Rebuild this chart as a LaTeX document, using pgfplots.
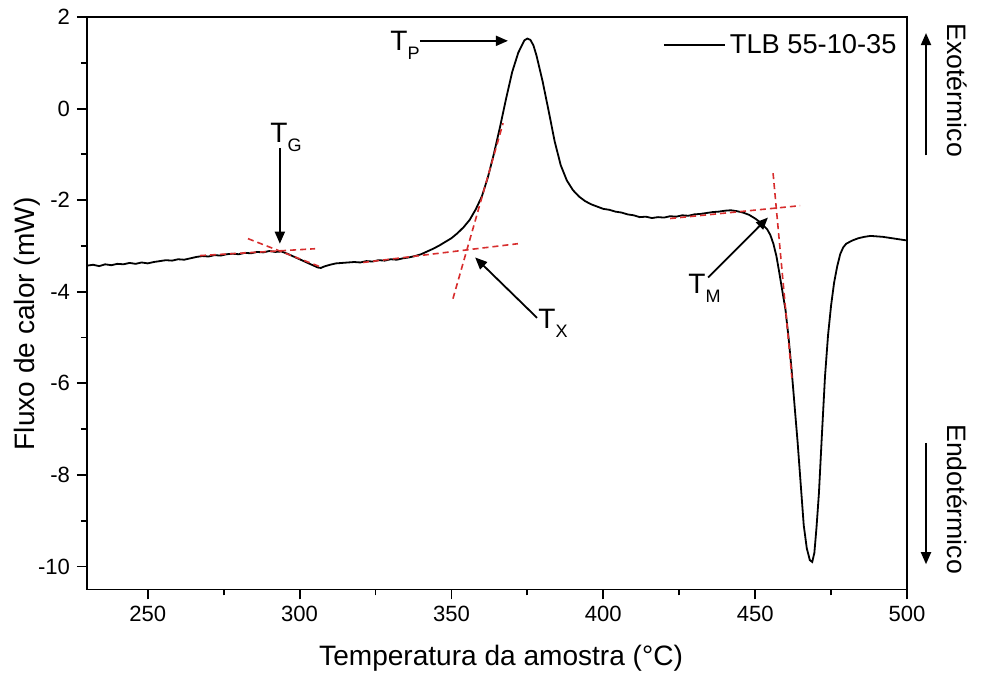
\documentclass[border=0pt]{standalone}
\usepackage{fontspec}
\setmainfont{Liberation Sans}
\usepackage{pgfplots}
\pgfplotsset{compat=1.18}
\usetikzlibrary{arrows.meta}
\definecolor{tang}{RGB}{215,45,45}
\newcommand{\fs}[1]{\fontsize{#1}{#1}\selectfont}
\newcommand{\Tsub}[1]{T\raisebox{-4.5pt}{\fs{9}#1}}
\begin{document}
\begin{tikzpicture}
\begin{axis}[
  scale only axis, width=409pt, height=285.5pt,
  xmin=230, xmax=500, ymin=-10.5, ymax=2,
  xtick={250,300,...,500}, ytick={-10,-8,...,2},
  minor xtick={275,325,...,475}, minor ytick={-9,-7,...,1},
  xtick pos=left, ytick pos=left,
  tick align=outside,
  major tick length=5pt, minor tick length=3pt,
  every tick/.style={line width=0.9pt, black},
  axis line style={line width=0.9pt},
  /pgf/number format/assume math mode=true,
  tick label style={font=\fs{11}},
  xlabel={Temperatura da amostra (°C)},
  ylabel={Fluxo de calor (mW)},
  label style={font=\fs{14}},
  xlabel style={at={(axis description cs:0.505,-0.121)}, anchor=center},
  ylabel style={at={(axis description cs:-0.073,0.464)}, anchor=center},
  clip=false,
  legend style={at={(axis description cs:1.0,0.985)}, anchor=north east, draw=none, fill=none, font=\fs{13.6}},
  legend image code/.code={\draw[#1] (0pt,0pt) -- (30.5pt,0pt);},
]
\addplot[black, line width=0.9pt] coordinates {
(230,-3.43)(232,-3.41)(234,-3.44)(236,-3.40)(238,-3.42)(240,-3.39)(242,-3.40)(244,-3.37)(246,-3.39)(248,-3.36)
(250,-3.38)(252,-3.35)(254,-3.33)(256,-3.31)(258,-3.32)(260,-3.29)(262,-3.30)(264,-3.27)(266,-3.24)(268,-3.22)
(270,-3.23)(272,-3.20)(274,-3.21)(276,-3.18)(278,-3.17)(280,-3.18)(282,-3.15)(284,-3.16)(286,-3.13)(288,-3.14)
(290,-3.11)(292,-3.13)(294,-3.12)(296,-3.17)(298,-3.23)(300,-3.29)(302,-3.35)(304,-3.41)(306,-3.47)(307,-3.48)
(308,-3.45)(310,-3.41)(312,-3.38)(314,-3.37)(316,-3.36)(318,-3.35)(320,-3.36)(322,-3.33)(324,-3.34)(326,-3.31)
(328,-3.32)(330,-3.29)(332,-3.30)(334,-3.27)(336,-3.25)(338,-3.22)(340,-3.18)(342,-3.12)(344,-3.06)(346,-2.99)
(348,-2.91)(350,-2.83)(352,-2.72)(354,-2.59)(356,-2.43)(358,-2.20)(360,-1.92)(362,-1.50)(364,-0.98)(366,-0.40)
(368,0.22)(370,0.80)(372,1.22)(374,1.49)(375,1.53)(376,1.50)(377,1.38)(378,1.16)(380,0.60)(382,-0.05)
(384,-0.72)(386,-1.24)(388,-1.57)(390,-1.78)(392,-1.92)(394,-2.02)(396,-2.09)(398,-2.14)(400,-2.19)(402,-2.21)
(404,-2.25)(406,-2.27)(408,-2.31)(410,-2.33)(412,-2.37)(414,-2.36)(416,-2.39)(418,-2.37)(420,-2.38)(422,-2.35)
(424,-2.36)(426,-2.33)(428,-2.34)(430,-2.31)(432,-2.30)(434,-2.28)(436,-2.26)(438,-2.25)(440,-2.23)(442,-2.22)
(444,-2.24)(446,-2.27)(448,-2.32)(450,-2.40)(452,-2.50)(454,-2.64)(455,-2.76)(456,-2.95)(457,-3.22)(458,-3.60)
(459,-4.00)(460,-4.40)(461,-5.00)(462,-5.70)(463,-6.50)(464,-7.30)(465,-8.20)(466,-9.10)(467,-9.60)(468,-9.86)
(468.8,-9.90)(469.5,-9.70)(470.2,-9.15)(471,-8.40)(472,-7.10)(473,-5.85)(474,-4.95)(475,-4.30)(476,-3.80)(477,-3.45)
(478,-3.18)(479,-3.03)(480,-2.95)(482,-2.88)(484,-2.83)(486,-2.80)(488,-2.78)(490,-2.79)(492,-2.80)(494,-2.82)
(496,-2.84)(498,-2.86)(500,-2.88)
};
\addlegendentry{TLB 55-10-35}
% tangents
\addplot[forget plot, tang, line width=0.8pt, dash pattern=on 3pt off 2pt] coordinates {(267.2,-3.21)(305.1,-3.06)};
\addplot[forget plot, tang, line width=0.8pt, dash pattern=on 3pt off 2pt] coordinates {(283,-2.84)(307.4,-3.47)};
\addplot[forget plot, tang, line width=0.8pt, dash pattern=on 3pt off 2pt] coordinates {(320.9,-3.36)(371.9,-2.95)};
\addplot[forget plot, tang, line width=0.8pt, dash pattern=on 3pt off 2pt] coordinates {(350.5,-4.15)(367,-0.32)};
\addplot[forget plot, tang, line width=0.8pt, dash pattern=on 3pt off 2pt] coordinates {(422,-2.40)(464.8,-2.12)};
\addplot[forget plot, tang, line width=0.8pt, dash pattern=on 3pt off 2pt] coordinates {(455.9,-1.41)(462.1,-5.88)};
% annotations
\node[anchor=base west, inner sep=0pt, font=\fs{14}] at (axis cs:290.26,-0.736) {\Tsub{G}};
\node[anchor=base west, inner sep=0pt, font=\fs{14}] at (axis cs:329.77,1.278) {\Tsub{P}};
\node[anchor=base west, inner sep=0pt, font=\fs{14}] at (axis cs:378.5,-4.81) {\Tsub{X}};
\node[anchor=base west, inner sep=0pt, font=\fs{14}] at (axis cs:427.9,-4.04) {\Tsub{M}};
\draw[line width=0.9pt, -{Triangle[length=6pt,width=5pt]}] (axis cs:293.5,-0.87) -- (axis cs:293.5,-2.95);
\draw[line width=0.9pt, -{Triangle[length=6pt,width=5pt]}] (axis cs:339.6,1.48) -- (axis cs:368.6,1.48);
\draw[line width=0.9pt, -{Triangle[length=6pt,width=5pt]}] (axis cs:378.2,-4.57) -- (axis cs:357.8,-3.25);
\draw[line width=0.9pt, -{Triangle[length=6pt,width=5pt]}] (axis cs:434.5,-3.69) -- (axis cs:454.2,-2.38);
\draw[line width=0.9pt, -{Triangle[length=6pt,width=5pt]}] (axis cs:506.26,-1.02) -- (axis cs:506.26,1.65);
\draw[line width=0.9pt, -{Triangle[length=6pt,width=5pt]}] (axis cs:506.26,-7.30) -- (axis cs:506.26,-9.95);
\node[rotate=-90, font=\fs{13.3}] at (axis cs:516.5,0.40) {Exotérmico};
\node[rotate=-90, font=\fs{13.3}] at (axis cs:516.5,-8.53) {Endotérmico};
\coordinate (bbSW) at (axis cs:201.35,-12.361);
\coordinate (bbNE) at (axis cs:524.37,2.372);
\end{axis}
\pgfresetboundingbox
\path[use as bounding box] (bbSW) rectangle (bbNE);
\end{tikzpicture}
\end{document}
